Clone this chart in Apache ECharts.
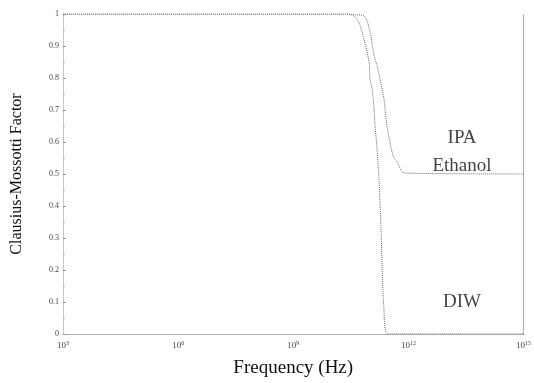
<!DOCTYPE html>
<html>
<head>
<meta charset="utf-8">
<script src="https://cdn.jsdelivr.net/npm/echarts@6/dist/echarts.min.js"></script>
<style>
html,body{margin:0;padding:0;background:#fff;}
#chart{width:534px;height:383px;}
</style>
</head>
<body>
<div id="chart"></div>
<script>
// Frequency ticks (Hz) — exponents of 10
const tickExponents = [3, 6, 9, 12, 15];
const yTicks = [0, 0.1, 0.2, 0.3, 0.4, 0.5, 0.6, 0.7, 0.8, 0.9, 1];

// Curve 1 (left curve, falls toward 0) — DIW
const diwFreq = [1e3, 2.26e10, 3.43e10, 4.62e10, 6.22e10, 9.4e10, 1.0e11, 1.13e11, 1.27e11, 1.35e11, 1.52e11, 1.71e11, 1.81e11, 1.92e11, 2.3e11, 3.0e11, 1e15];
const diwCM   = [1, 1, 0.997, 0.984, 0.944, 0.851, 0.798, 0.767, 0.705, 0.652, 0.581, 0.488, 0.425, 0.342, 0.08, 0.0, 0.0];

// Curve 2 (right curve, falls to 0.5) — IPA / Ethanol
const alcFreq = [1e3, 2.26e10, 3.43e10, 7.0e10, 1.0e11, 1.27e11, 1.52e11, 1.81e11, 2.3e11, 2.75e11, 3.28e11, 4.16e11, 4.98e11, 8.0e11, 1e15];
const alcCM   = [1, 1, 0.998, 0.994, 0.944, 0.870, 0.839, 0.798, 0.736, 0.652, 0.602, 0.550, 0.540, 0.503, 0.5];

// Annotation labels
const labelText = ['IPA', 'Ethanol', 'DIW'];
const labelFreq = [2.5e13, 2.5e13, 2.5e13];
const labelCM   = [0.612, 0.525, 0.100];

const chart = echarts.init(document.getElementById('chart'), null, {renderer: 'canvas'});
const serif = '"Liberation Serif", "DejaVu Serif", serif';
const lineCol = '#6a6a6a';

const option = {
  backgroundColor: '#fff',
  animation: false,
  grid: {left: 63, right: 7, top: 14, bottom: 43},
  xAxis: [{
    type: 'log',
    logBase: 10,
    min: Math.pow(10, tickExponents[0]),
    max: Math.pow(10, tickExponents[tickExponents.length - 1]),
    interval: 3,
    name: 'Frequency (Hz)',
    nameLocation: 'middle',
    nameGap: 25,
    nameTextStyle: {fontFamily: serif, fontSize: 19, color: '#111'},
    axisLine: {lineStyle: {color: '#aaa', type: 'dotted', width: 1}},
    axisTick: {show: false},
    splitLine: {show: false},
    axisLabel: {
      margin: 6,
      fontFamily: serif,
      fontSize: 9,
      color: '#444',
      formatter: function (v) {
        const e = Math.round(Math.log10(v));
        return '10{s|' + String(e) + '}';
      },
      rich: {s: {fontSize: 6, verticalAlign: 'top', padding: [0, 0, 6, 0], fontFamily: serif, color: '#444'}}
    }
  }, {
    type: 'log', logBase: 10, position: 'top',
    min: Math.pow(10, tickExponents[0]),
    max: Math.pow(10, tickExponents[tickExponents.length - 1]),
    axisLine: {lineStyle: {color: '#aaa', type: 'dotted'}},
    axisTick: {show: false}, axisLabel: {show: false}, splitLine: {show: false}
  }],
  yAxis: [{
    type: 'value',
    min: 0, max: 1, interval: 0.1,
    name: 'Clausius-Mossotti Factor',
    nameLocation: 'middle',
    nameGap: 38,
    nameTextStyle: {fontFamily: serif, fontSize: 16, color: '#111'},
    axisLine: {show: true, lineStyle: {color: '#bbb', type: 'dotted'}},
    axisTick: {show: true, inside: true, length: 3, lineStyle: {color: '#999'}},
    minorTick: {show: true, splitNumber: 2, length: 2, lineStyle: {color: '#bbb'}},
    splitLine: {show: false},
    axisLabel: {
      margin: 4, fontFamily: serif, fontSize: 8, color: '#444',
      formatter: function (v) { return v === 0 ? '0' : (v === 1 ? '1' : v.toFixed(1)); }
    }
  }, {
    type: 'value', position: 'right', min: 0, max: 1,
    axisLine: {show: true, lineStyle: {color: '#999', type: 'dotted'}},
    axisTick: {show: false}, axisLabel: {show: false}, splitLine: {show: false}
  }],
  series: [{
    name: 'DIW',
    type: 'line',
    data: diwFreq.map((f, i) => [f, diwCM[i]]),
    showSymbol: false,
    smooth: 0.3,
    lineStyle: {color: lineCol, width: 1, type: 'dotted'}
  }, {
    name: 'IPA / Ethanol',
    type: 'line',
    data: alcFreq.map((f, i) => [f, alcCM[i]]),
    showSymbol: false,
    smooth: 0.3,
    lineStyle: {color: lineCol, width: 1, type: 'dotted'}
  }, {
    name: 'labels',
    type: 'scatter',
    symbolSize: 0,
    silent: true,
    data: labelFreq.map((f, i) => ({value: [f, labelCM[i]], name: labelText[i]})),
    label: {
      show: true,
      position: 'inside',
      formatter: p => p.name,
      fontFamily: serif,
      fontSize: 19,
      color: '#111'
    }
  }]
};
chart.setOption(option);
</script>
</body>
</html>
